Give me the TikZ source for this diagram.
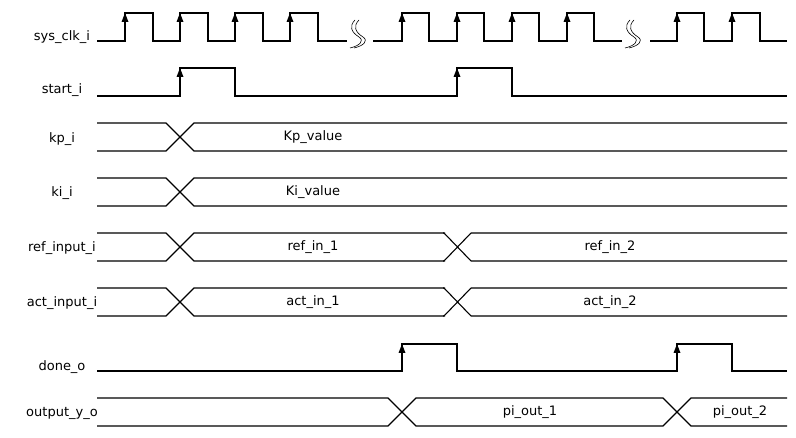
\documentclass[tikz,border=0pt]{standalone}
\usepackage{fontspec}
\setmainfont{DejaVu Sans}
\begin{document}
\begin{tikzpicture}[x=1pt,y=-1pt,line width=1.1pt,
  lbl/.style={font=\fontsize{13}{15}\selectfont,anchor=center},
  val/.style={font=\fontsize{13}{15}\selectfont,anchor=center},
  edge/.pic={\fill (0,0) -- (-3.5,9) -- (3.5,9) -- cycle;}]
\useasboundingbox (0,0) rectangle (796,438);
% labels
\node[lbl] (l1) at (62,37) {sys\_clk\_i};
\node[lbl] (l2) at (62,90) {start\_i};
\node[lbl] (l3) at (62,139) {kp\_i};
\node[lbl] (l4) at (62,193) {ki\_i};
\node[lbl] (l5) at (62,248) {ref\_input\_i};
\node[lbl] (l6) at (62,303) {act\_input\_i};
\node[lbl] (l7) at (62,367) {done\_o};
\node[lbl] (l8) at (62,413) {output\_y\_o};
% clock
\draw (97,41) -- (125,41) -- (125,13) -- (153,13) -- (153,41) -- (180,41) -- (180,13) -- (208,13) -- (208,41)
  -- (235,41) -- (235,13) -- (263,13) -- (263,41) -- (290,41) -- (290,13) -- (318,13) -- (318,41) -- (347,41);
\draw (373,41) -- (402,41) -- (402,13) -- (429,13) -- (429,41) -- (457,41) -- (457,13) -- (484,13) -- (484,41)
  -- (512,41) -- (512,13) -- (539,13) -- (539,41) -- (567,41) -- (567,13) -- (594,13) -- (594,41) -- (622,41);
\draw (650,41) -- (677,41) -- (677,13) -- (704,13) -- (704,41) -- (732,41) -- (732,13) -- (760,13) -- (760,41) -- (787,41);
\foreach \x in {125,180,235,290,402,457,512,567,677,732} \pic at (\x,13) {edge};
% breaks
\foreach \b in {349,624}{
  \draw[line width=0.6pt] (\b+6,20) .. controls (\b,26) and (\b+2,32) .. (\b+10,37) .. controls (\b+16,41) and (\b+10,46) .. (\b+1,48);
  \draw[line width=0.6pt] (\b+10,20) .. controls (\b+4,26) and (\b+6,32) .. (\b+14,37) .. controls (\b+20,41) and (\b+14,46) .. (\b+5,48);
}
% start
\draw (97,96) -- (180,96) -- (180,68) -- (235,68) -- (235,96) -- (457,96) -- (457,68) -- (512,68) -- (512,96) -- (787,96);
\foreach \x in {180,457} \pic at (\x,68) {edge};
% bus lines
\def\bus#1#2{%
  \draw (97,#1) -- (166,#1) -- (194,#1+28) -- (787,#1+28);
  \draw (97,#1+28) -- (166,#1+28) -- (194,#1) -- (787,#1);}
\bus{123}{}
\node[val] (v1) at (313,137) {Kp\_value};
\bus{178}{}
\node[val] (v2) at (313,192) {Ki\_value};
\bus{233}{}
\draw[white,line width=2.5pt] (444,233) -- (471,233) (444,261) -- (471,261);
\draw (444,233) -- (471,261) (444,261) -- (471,233) (443,233)--(445,233) (443,261)--(445,261);
\node[val] (v3) at (313,247) {ref\_in\_1};
\node[val] (v4) at (610,247) {ref\_in\_2};
\bus{288}{}
\draw[white,line width=2.5pt] (444,288) -- (471,288) (444,316) -- (471,316);
\draw (444,288) -- (471,316) (444,316) -- (471,288) (443,288)--(445,288) (443,316)--(445,316);
\node[val] (v5) at (313,302) {act\_in\_1};
\node[val] (v6) at (610,302) {act\_in\_2};
% done
\draw (97,371) -- (402,371) -- (402,344) -- (457,344) -- (457,371) -- (677,371) -- (677,344) -- (732,344) -- (732,371) -- (787,371);
\foreach \x in {402,677} \pic at (\x,344) {edge};
% output
\draw (97,398) -- (388,398) -- (416,426) -- (663,426) -- (691,398) -- (787,398);
\draw (97,426) -- (388,426) -- (416,398) -- (663,398) -- (691,426) -- (787,426);
\node[val] (v7) at (530,412) {pi\_out\_1};
\node[val] (v8) at (740,412) {pi\_out\_2};
\end{tikzpicture}
\end{document}
